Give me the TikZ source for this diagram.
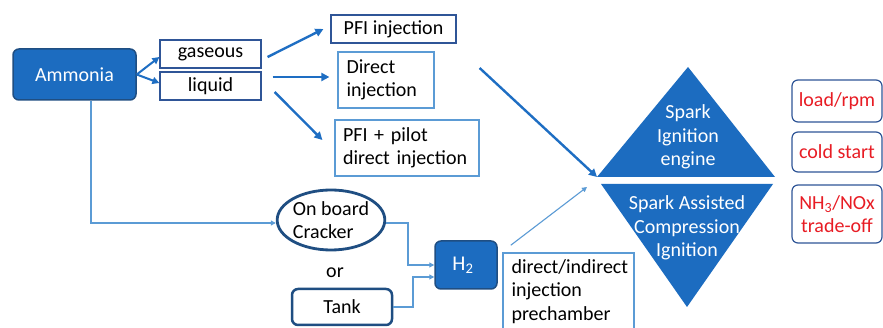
\documentclass[tikz,border=0pt]{standalone}
\usepackage{fontspec}
\setmainfont{Carlito}
\usetikzlibrary{arrows.meta,calc,shapes.geometric}
\definecolor{bfill}{RGB}{28,108,192}
\definecolor{bdark}{RGB}{31,78,130}
\definecolor{bmid}{RGB}{47,85,151}
\definecolor{blight}{RGB}{91,155,213}
\definecolor{barrow}{RGB}{30,110,195}
\definecolor{tred}{RGB}{232,28,36}
\tikzset{
  base/.style={font=\fontsize{20}{23.5}\selectfont, inner sep=0pt},
  bluebox/.style={base, rounded corners=6pt, fill=bfill, draw=bdark, line width=1.5pt, text=white},
  obox/.style={base, draw=bmid, line width=1.2pt},
  lbox/.style={base, draw=blight, line width=1.2pt},
  rbox/.style={base, draw=bmid, line width=1.2pt, rounded corners=6pt, text=tred, align=center},
  arr/.style={draw=barrow, line width=2.4pt, -{Triangle[length=8pt,width=8pt]}},
  thinarr/.style={draw=blight, line width=1.1pt, -{Triangle[length=5pt,width=5pt]}},
  trtext/.style={base, text=white, align=center},
}
\begin{document}
\begin{tikzpicture}[x=1pt,y=-1pt]
\useasboundingbox (0,0) rectangle (883,328);
\clip (0,0) rectangle (883,328);
\fill[white] (0,0) rectangle (883,328);
% nodes
\node[bluebox, minimum width=123pt, minimum height=51pt] (amm) at (74.5,74.5) {Ammonia};
\node[obox, minimum width=101pt, minimum height=28pt] (gas) at (210.5,54) {gaseous};
\node[obox, minimum width=101pt, minimum height=28pt] (liq) at (210.5,86) {liquid};
\node[obox, minimum width=125pt, minimum height=28pt] (pfi) at (393.5,29) {PFI injection};
\node[lbox, minimum width=96pt, minimum height=56pt, text width=79pt, inner xsep=8.5pt, align=left] (direct) at (386,80) {Direct\\injection};
\node[lbox, minimum width=144pt, minimum height=56pt, text width=128pt, inner xsep=7.5pt, align=left] (pilot) at (407,148) {PFI + pilot\\direct injection};
\node[base, ellipse, draw=bdark, line width=2.8pt, minimum width=102pt, minimum height=60pt, align=left] (crack) at (331,220) {On board\\Cracker};
\node[base] (or) at (335,273) {or};
\node[base, rounded corners=6pt, draw=bdark, line width=2.5pt, minimum width=100pt, minimum height=36pt] (tank) at (342,307) {Tank};
\node[bluebox, minimum width=62pt, minimum height=48pt, font=\fontsize{21}{24}\selectfont] (h2) at (466,265) {H\textsubscript{2}\hspace*{6pt}};
\node[lbox, minimum width=131pt, minimum height=77pt, text width=114pt, inner xsep=8.5pt, align=left] (pre) at (568.5,291.5) {direct/indirect\\injection\\prechamber};
\node[rbox, minimum width=90pt, minimum height=42pt] (load) at (837,101) {load/rpm};
\node[rbox, minimum width=90pt, minimum height=40pt] (cold) at (837,152) {cold start};
\node[rbox, minimum width=90pt, minimum height=58pt] (nh3) at (837,214) {NH\textsubscript{3}/NOx\\trade-off};
% triangles
\coordinate (ul) at (597,177);
\coordinate (ur) at (775,177);
\coordinate (ut) at (688,67);
\coordinate (ll) at (601,184);
\coordinate (lr) at (773,184);
\coordinate (lb) at (687,307);
\fill[bfill] (ul) -- (ut) -- (ur) -- cycle;
\fill[bfill] (ll) -- (lr) -- (lb) -- cycle;
\node[trtext] (si) at (688,137) {Spark\\Ignition\\engine};
\node[trtext] (saci) at (687,228) {Spark Assisted\\Compression\\Ignition};
% connectors
\draw[arr, line width=2pt, -{Triangle[length=7pt,width=7pt]}] (amm.east) -- ($(gas.west)+(0,3)$);
\draw[arr, line width=2pt, -{Triangle[length=7pt,width=7pt]}] (amm.east) -- ($(liq.west)+(0,-3)$);
\draw[arr] ($(gas.east)+(6,3)$) -- ($(pfi.west)+(-7,0)$);
\draw[arr] ($(liq.east)+(11,-9)$) -- ($(direct.west)+(-8,-3)$);
\draw[arr] ($(liq.east)+(13,6)$) -- ($(pilot.west)+(-12,-8)$);
\draw[arr] ($(direct.east)+(45,-12)$) -- (ul);
\draw[thinarr] ($(h2.north east)+(13,5)$) -- ($(ll)+(-14,3)$);
\draw[thinarr] ($(amm.south)+(16.5,0)$) |- ($(crack.west)+(0,3)$);
\draw[thinarr] ($(crack.east)+(0,3)$) -| (408,265) -- (h2.west);
\draw[thinarr] (tank.east) -| (413,277) -- ($(h2.west)+(0,12)$);
\end{tikzpicture}
\end{document}
